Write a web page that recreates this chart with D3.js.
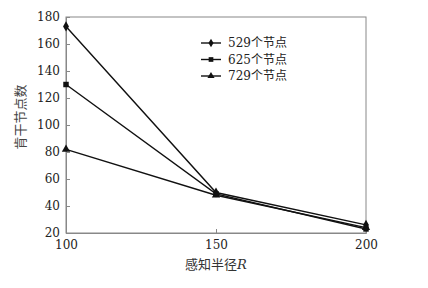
<!DOCTYPE html>
<html>
<head>
<meta charset="utf-8">
<script src="https://cdn.jsdelivr.net/npm/d3@7"></script>
<style>
body { margin: 0; background: #fff; }
</style>
</head>
<body>
<div class="chart"></div>
<script>
// data
const radius = [100, 150, 200];
const nodes529 = [173, 50, 26];
const nodes625 = [130, 49, 23];
const nodes729 = [82, 48, 24];
const seriesNames = ["529个节点", "625个节点", "729个节点"];
const yTicks = [20, 40, 60, 80, 100, 120, 140, 160, 180];
const xTicks = [100, 150, 200];

const serif = "'DejaVu Serif', 'Noto Sans CJK SC', serif";

const margin = {top: 17, right: 62, bottom: 55, left: 66};
const width = 428 - margin.left - margin.right,
    height = 288 - margin.top - margin.bottom;

const series = [
    {name: seriesNames[0], values: nodes529, shape: d3.symbolDiamond},
    {name: seriesNames[1], values: nodes625, shape: d3.symbolSquare},
    {name: seriesNames[2], values: nodes729, shape: d3.symbolTriangle}
];

const xScale = d3.scaleLinear().domain([100, 200]).range([0, width]);
const yScale = d3.scaleLinear().domain([20, 180]).range([height, 0]);

var svg = d3.select(".chart")
    .append("svg")
    .attr("width", 428)
    .attr("height", 288)
    .append("g")
    .attr("transform", "translate(" + margin.left + "," + margin.top + ")");

// frame
svg.append("rect")
    .attr("width", width)
    .attr("height", height)
    .attr("fill", "none")
    .attr("stroke", "#888")
    .attr("stroke-width", 1);

const yAxis = d3.axisLeft(yScale).tickValues(yTicks).tickSize(-4).tickPadding(6);
const xAxis = d3.axisBottom(xScale).tickValues(xTicks).tickSize(-4).tickPadding(7);

var yAxisDisplay = svg.append("g").call(yAxis).attr("font-family", null);
var xAxisDisplay = svg.append("g").attr("transform", `translate(0, ${height})`).call(xAxis).attr("font-family", null);

[yAxisDisplay, xAxisDisplay].forEach(g => {
    g.select(".domain").attr("stroke", "#888");
    g.selectAll(".tick line").attr("stroke", "#888");
    g.selectAll(".tick text")
        .attr("fill", "#222")
        .style("font-size", "12px")
        .style("font-family", serif);
});
yAxisDisplay.selectAll(".tick text").attr("dy", "0.25em");

const line = d3.line()
    .x((d, i) => xScale(radius[i]))
    .y(d => yScale(d));

series.forEach(s => {
    svg.append("path")
        .attr("d", line(s.values))
        .attr("fill", "none")
        .attr("stroke", "#111")
        .attr("stroke-width", 1.4);
    svg.selectAll(null)
        .data(s.values)
        .enter()
        .append("path")
        .attr("d", d3.symbol().type(s.shape).size(30))
        .attr("transform", (d, i) => `translate(${xScale(radius[i])},${yScale(d)})`)
        .attr("fill", "#111");
});

// legend
var legend = svg.append("g").attr("transform", "translate(135, 26)");
series.forEach((s, i) => {
    var row = legend.append("g").attr("transform", `translate(0, ${i * 16.5})`);
    row.append("line")
        .attr("x1", 0).attr("x2", 20)
        .attr("stroke", "#111").attr("stroke-width", 1.4);
    row.append("path")
        .attr("d", d3.symbol().type(s.shape).size(22))
        .attr("transform", "translate(10,0)")
        .attr("fill", "#111");
    row.append("text")
        .text(s.name)
        .attr("x", 27)
        .attr("dy", "0.35em")
        .style("font-size", "12px")
        .style("font-family", serif)
        .attr("fill", "#222");
});

// axis labels
svg.append("text")
    .attr("x", width / 2)
    .attr("y", height + 36)
    .attr("text-anchor", "middle")
    .style("font-size", "13px")
    .style("font-family", serif)
    .attr("fill", "#333")
    .html('感知半径<tspan font-style="italic">R</tspan>');

svg.append("text")
    .text("肯干节点数")
    .attr("transform", `translate(-41, ${height / 2 - 8}) rotate(-90)`)
    .attr("text-anchor", "middle")
    .style("font-size", "13px")
    .style("font-family", serif)
    .attr("fill", "#444");
</script>
</body>
</html>
